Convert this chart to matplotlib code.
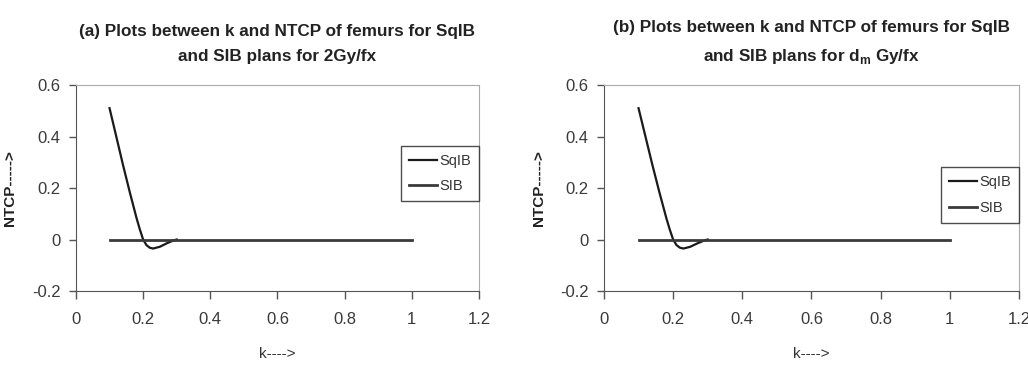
import matplotlib
matplotlib.use("Agg")
import matplotlib.pyplot as plt

# NTCP vs k (same curves in both panels)
k_sqib = [0.10, 0.12, 0.14, 0.16, 0.18, 0.19, 0.20, 0.21, 0.22, 0.23, 0.25, 0.27, 0.29, 0.30]
ntcp_sqib = [0.51, 0.40, 0.29, 0.185, 0.085, 0.04, 0.0, -0.022, -0.032, -0.035, -0.028, -0.015, -0.004, 0.0]
k_sib = [0.1, 0.2, 0.3, 0.4, 0.5, 0.6, 0.7, 0.8, 0.9, 1.0]
ntcp_sib = [0, 0, 0, 0, 0, 0, 0, 0, 0, 0]

titles = ["(a) Plots between k and NTCP of femurs for SqIB\nand SIB plans for 2Gy/fx",
          "(b) Plots between k and NTCP of femurs for SqIB\nand SIB plans for d$_\\mathregular{m}$ Gy/fx"]
xticks = [0, 0.2, 0.4, 0.6, 0.8, 1, 1.2]
xticklabels = ["0", "0.2", "0.4", "0.6", "0.8", "1", "1.2"]
yticks = [-0.2, 0, 0.2, 0.4, 0.6]
yticklabels = ["-0.2", "0", "0.2", "0.4", "0.6"]

font = "Liberation Sans"
fig = plt.figure(figsize=(10.28, 3.68), dpi=100)
positions = [[0.0739, 0.2092, 0.392, 0.5598], [0.5875, 0.2092, 0.4037, 0.5598]]
legend_top = [0.705, 0.60]
ylabel_x = [-0.146, -0.14]

for i in range(2):
    ax = fig.add_axes(positions[i])
    ax.plot(k_sqib, ntcp_sqib, color="#1a1a1a", lw=1.6, label="SqIB")
    ax.plot(k_sib, ntcp_sib, color="#3a3a3a", lw=2.0, label="SIB")
    ax.set_xlim(0, 1.2)
    ax.set_ylim(-0.2, 0.6)
    ax.set_xticks(xticks)
    ax.set_xticklabels(xticklabels, fontfamily=font, fontsize=12, color="#3a3a3a")
    ax.set_yticks(yticks)
    ax.set_yticklabels(yticklabels, fontfamily=font, fontsize=12, color="#3a3a3a")
    ax.tick_params(axis="x", direction="out", length=6, width=1, color="#555555", pad=9)
    ax.tick_params(axis="y", direction="out", length=5, width=1, color="#555555", pad=6)
    ax.spines['top'].set_color("#aaaaaa")
    ax.spines['right'].set_color("#aaaaaa")
    ax.spines['left'].set_color("#555555")
    ax.spines['bottom'].set_color("#555555")
    ax.set_title(titles[i], fontfamily=font, fontweight="bold", fontsize=12.3,
                 color="#222222", pad=17, linespacing=1.85)
    ax.set_xlabel("k---->", fontfamily=font, fontsize=11, color="#333333")
    ax.xaxis.set_label_coords(0.5, -0.272)
    ax.set_ylabel("NTCP----->", fontfamily=font, fontsize=11, fontweight="bold", color="#222222")
    ax.yaxis.set_label_coords(ylabel_x[i], 0.5)
    leg = ax.legend(loc="upper right", bbox_to_anchor=(1.0, legend_top[i]), frameon=True, fancybox=False,
                    edgecolor="#222222", handlelength=1.9, handletextpad=0.15, borderpad=0.55,
                    borderaxespad=0, labelspacing=0.8, prop={"family": font, "size": 10.5})
    leg.get_frame().set_linewidth(1.0)
    for t in leg.get_texts():
        t.set_color("#333333")

plt.savefig("out.png", dpi=100)
plt.close()
